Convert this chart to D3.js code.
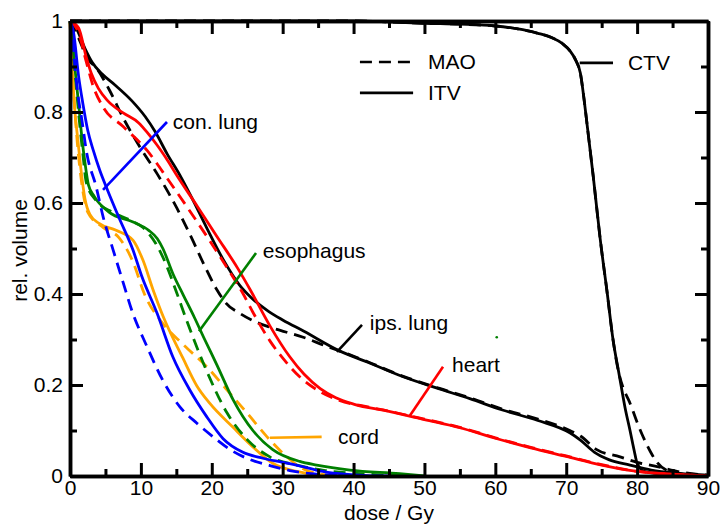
<!DOCTYPE html>
<html>
<head>
<meta charset="utf-8">
<script src="https://cdn.jsdelivr.net/npm/d3@7"></script>
<style>
  body { margin: 0; background: #fff; }
  text { font-family: "Liberation Sans", Arial, sans-serif; }
</style>
</head>
<body>
<script>
// dose (Gy), relative volume pairs
var ipsLungItv = [[0,1],[1,0.98],[2.1,0.94],[3.1,0.91],[4.5,0.884],[6.3,0.86],[8.7,0.825],[10.6,0.79],[12,0.757],[13.7,0.708],[15.5,0.661],[16.9,0.62],[19.3,0.545],[21.6,0.476],[24,0.418],[25.5,0.393],[28,0.362],[30,0.343],[33,0.318],[38,0.275],[42,0.25],[47,0.218],[52,0.192],[56.4,0.17],[61,0.145],[66,0.122],[70.5,0.095],[72,0.079],[74,0.052],[76,0.036],[79,0.024],[82,0.013],[86,0.006],[90,0.002]];
var ipsLungMao = [[0,1],[1,0.97],[2.5,0.917],[3.8,0.895],[5.5,0.85],[7.5,0.787],[9.9,0.722],[12.3,0.664],[13.8,0.625],[15.1,0.588],[17.4,0.515],[18.8,0.468],[20.7,0.41],[22,0.38],[24,0.357],[26,0.34],[28.2,0.327],[32.9,0.305],[36.2,0.285],[38,0.275],[42,0.251],[47,0.219],[52,0.193],[56.4,0.172],[61,0.147],[66,0.125],[70.5,0.1],[72,0.088],[74.3,0.058],[77.6,0.042],[80,0.03],[83,0.02],[86,0.009],[90,0.002]];
var heartItv = [[0,1],[1.2,0.985],[2.3,0.92],[3,0.885],[4,0.852],[5.3,0.825],[7.5,0.798],[9.7,0.776],[11,0.753],[12.3,0.727],[13.5,0.7],[15.1,0.66],[17.9,0.594],[20.7,0.527],[23.6,0.458],[25.4,0.41],[28.2,0.33],[31,0.262],[33,0.224],[35.3,0.192],[37.5,0.172],[40,0.158],[45,0.142],[50,0.124],[55,0.106],[60,0.083],[65,0.062],[70,0.043],[75,0.024],[80,0.01],[85,0.004],[90,0]];
var heartMao = [[0,1],[1.2,0.975],[2.3,0.91],[3.2,0.86],[4.7,0.81],[7.5,0.768],[10.9,0.715],[13.9,0.65],[16.7,0.587],[19.5,0.522],[22.6,0.447],[24.4,0.401],[25.8,0.36],[28.2,0.297],[30.6,0.248],[32.4,0.218],[35.3,0.185],[38,0.166],[42.3,0.151],[46,0.139],[50,0.125],[55,0.107],[60,0.084],[65,0.063],[70,0.044],[75,0.025],[80,0.01],[85,0.004],[90,0]];
var conLungItv = [[0,1],[0.5,0.975],[1.2,0.88],[1.8,0.82],[2.5,0.76],[3.3,0.715],[4.2,0.672],[5.2,0.632],[6.9,0.568],[8.9,0.496],[10.1,0.44],[12.3,0.357],[14.5,0.262],[16.9,0.189],[19.3,0.13],[21.6,0.082],[24.4,0.052],[27.2,0.039],[30,0.03],[32.4,0.022],[35,0.012],[38,0.005],[42,0.001],[45,0]];
var conLungMao = [[0,1],[0.3,0.97],[0.7,0.9],[1.1,0.84],[1.7,0.78],[2.3,0.715],[3.7,0.635],[4.7,0.568],[6.1,0.496],[7.5,0.425],[8.7,0.365],[10.9,0.283],[13.1,0.21],[15.5,0.152],[17.9,0.116],[20.2,0.086],[22.6,0.058],[25.4,0.036],[28.2,0.023],[31,0.012],[34,0.005],[38,0.001],[40,0]];
var esophagusItv = [[0,1],[0.4,0.95],[0.8,0.88],[1.2,0.82],[1.7,0.74],[2.1,0.69],[2.6,0.64],[3.4,0.615],[5.5,0.58],[8.9,0.558],[11.1,0.54],[12.3,0.522],[13.1,0.5],[14.5,0.445],[16,0.397],[17.5,0.35],[19,0.3],[20.7,0.245],[23,0.168],[25.8,0.1],[28.6,0.058],[32.4,0.032],[34.8,0.024],[39.5,0.013],[46.5,0.005],[50,0]];
var esophagusMao = [[0,1],[0.4,0.94],[0.8,0.87],[1.2,0.8],[1.8,0.71],[2.3,0.645],[3.7,0.605],[6,0.58],[8.5,0.562],[10.3,0.546],[12.1,0.511],[13.5,0.467],[15,0.405],[16.5,0.34],[19.3,0.23],[22.1,0.14],[25,0.08],[28.2,0.042],[32,0.024],[36,0.012],[42,0.004],[48,0]];
var cordItv = [[0,1],[0.3,0.9],[0.7,0.8],[1.1,0.74],[1.5,0.68],[2.1,0.61],[2.8,0.575],[4.1,0.555],[6.5,0.54],[8.9,0.518],[10.3,0.474],[11.7,0.41],[13.1,0.352],[15.9,0.26],[17.9,0.198],[19.7,0.16],[23,0.107],[25.8,0.064],[28.6,0.028],[32,0.01],[35,0.002],[37,0]];
var cordMao = [[0,1],[0.3,0.9],[0.7,0.8],[1.1,0.72],[1.6,0.65],[2.5,0.58],[4.7,0.546],[6.9,0.524],[8.9,0.47],[10.5,0.4],[13.1,0.335],[15.9,0.29],[19.3,0.24],[22.1,0.19],[25,0.138],[27.8,0.086],[30.6,0.042],[32.4,0.02],[35,0.005],[38,0]];
var ctvItv = [[0,1],[40,1],[45,0.998],[50,0.995],[55,0.993],[60,0.989],[63,0.983],[66,0.973],[68,0.963],[69.5,0.95],[70.5,0.935],[71.3,0.915],[72,0.885],[72.5,0.83],[73,0.765],[73.8,0.66],[74.8,0.52],[75.8,0.4],[76.6,0.3],[77.5,0.22],[78.3,0.15],[79,0.1],[79.6,0.055],[80,0.028],[81,0.01],[83,0.005],[86,0.002],[90,0]];
var ctvMao = [[0,1],[40,1],[45,0.998],[50,0.995],[55,0.993],[60,0.989],[63,0.983],[66,0.973],[68,0.963],[69.5,0.95],[70.5,0.935],[71.3,0.915],[72,0.885],[72.5,0.83],[73,0.765],[73.8,0.66],[74.8,0.52],[75.8,0.4],[76.6,0.3],[77.4,0.228],[78,0.195],[78.5,0.177],[79,0.16],[80,0.118],[80.8,0.088],[82,0.05],[82.8,0.03],[84.6,0.01],[87,0.003],[90,0]];
var strayPoint = [[60.2,0.305]];

var xTicks = [0,10,20,30,40,50,60,70,80,90];
var xMinor = [5,15,25,35,45,55,65,75,85];
var yTicks = [0,0.2,0.4,0.6,0.8,1];
var yLabels = ["0","0.2","0.4","0.6","0.8","1"];
var yMinor = [0.1,0.3,0.5,0.7,0.9];

var curves = [
  {data: ctvItv, color: "#000", dash: null},
  {data: ctvMao, color: "#000", dash: "12,7"},
  {data: ipsLungItv, color: "#000", dash: null},
  {data: ipsLungMao, color: "#000", dash: "12,7"},
  {data: heartItv, color: "#ff0000", dash: null},
  {data: heartMao, color: "#ff0000", dash: "12,7"},
  {data: cordItv, color: "#ffa500", dash: null},
  {data: cordMao, color: "#ffa500", dash: "12,7"},
  {data: esophagusItv, color: "#008000", dash: null},
  {data: esophagusMao, color: "#008000", dash: "12,7"},
  {data: conLungItv, color: "#0000ff", dash: null},
  {data: conLungMao, color: "#0000ff", dash: "12,7"}
];

// labels with leader lines, in data units
var notes = [
  {text: "con. lung", color: "#0000ff", from: [4.66,0.629], to: [13.68,0.778], at: [14.5,0.778]},
  {text: "esophagus", color: "#008000", from: [18.2,0.318], to: [26.24,0.49], at: [27.2,0.495]},
  {text: "ips. lung", color: "#000", from: [37.66,0.273], to: [41.19,0.332], at: [42.3,0.336]},
  {text: "heart", color: "#ff0000", from: [47.96,0.133], to: [52.62,0.24], at: [53.9,0.244]},
  {text: "cord", color: "#ffa500", from: [28.2,0.084], to: [35.5,0.086], at: [37.8,0.086]},
  {text: "CTV", color: "#000", from: [71.9,0.908], to: [76.6,0.908], at: [78.7,0.908]}
];
var legend = [
  {text: "MAO", dash: "12,7", from: [40.9,0.91], to: [48.4,0.91], at: [50.5,0.91]},
  {text: "ITV", dash: null, from: [40.9,0.842], to: [48.4,0.842], at: [50.5,0.842]}
];

var width = 722, height = 525;
var x = d3.scaleLinear().domain([0, 90]).range([70, 708]);
var y = d3.scaleLinear().domain([0, 1]).range([476, 21]);

var svg = d3.select("body").append("svg")
  .attr("width", width).attr("height", height);

var line = d3.line()
  .x(function(d){ return x(d[0]); })
  .y(function(d){ return y(d[1]); })
  .curve(d3.curveMonotoneX);

svg.selectAll(".curve").data(curves).enter().append("path")
  .attr("class", "curve")
  .attr("d", function(d){ return line(d.data); })
  .attr("fill", "none")
  .attr("stroke", function(d){ return d.color; })
  .attr("stroke-width", 2.8)
  .attr("stroke-dasharray", function(d){ return d.dash; });

svg.selectAll(".stray").data(strayPoint).enter().append("circle")
  .attr("cx", function(d){ return x(d[0]); })
  .attr("cy", function(d){ return y(d[1]); })
  .attr("r", 1.3).attr("fill", "#008000");

// axes: ticks point inward
function styleAxis(g) {
  g.select(".domain").attr("stroke", "#000").attr("stroke-width", 3.5);
  g.selectAll(".tick line").attr("stroke", "#000").attr("stroke-width", 3);
  g.selectAll(".tick text").attr("fill", "#000")
    .style("font-size", "21px").style("font-family", "'Liberation Sans', Arial, sans-serif");
}

svg.append("g").attr("transform", "translate(0," + y(0) + ")")
  .call(d3.axisBottom(x).tickValues(xTicks).tickSize(-13).tickSizeOuter(0).tickPadding(4).tickFormat(d3.format("d")))
  .call(styleAxis);
svg.append("g").attr("transform", "translate(0," + y(0) + ")")
  .call(d3.axisBottom(x).tickValues(xMinor).tickSize(-7).tickSizeOuter(0).tickFormat(""))
  .call(styleAxis);
svg.append("g").attr("transform", "translate(0," + y(1) + ")")
  .call(d3.axisTop(x).tickValues(xTicks).tickSize(-13).tickSizeOuter(0).tickFormat(""))
  .call(styleAxis);
svg.append("g").attr("transform", "translate(0," + y(1) + ")")
  .call(d3.axisTop(x).tickValues(xMinor).tickSize(-7).tickSizeOuter(0).tickFormat(""))
  .call(styleAxis);

svg.append("g").attr("transform", "translate(" + x(0) + ",0)")
  .call(d3.axisLeft(y).tickValues(yTicks).tickSize(-13).tickSizeOuter(0).tickPadding(7)
    .tickFormat(function(d, i){ return yLabels[i]; }))
  .call(styleAxis);
svg.append("g").attr("transform", "translate(" + x(0) + ",0)")
  .call(d3.axisLeft(y).tickValues(yMinor).tickSize(-7).tickSizeOuter(0).tickFormat(""))
  .call(styleAxis);
svg.append("g").attr("transform", "translate(" + x(90) + ",0)")
  .call(d3.axisRight(y).tickValues(yTicks).tickSize(-13).tickSizeOuter(0).tickFormat(""))
  .call(styleAxis);
svg.append("g").attr("transform", "translate(" + x(90) + ",0)")
  .call(d3.axisRight(y).tickValues(yMinor).tickSize(-7).tickSizeOuter(0).tickFormat(""))
  .call(styleAxis);

// axis titles
svg.append("text")
  .attr("x", (x(0) + x(90)) / 2).attr("y", 520)
  .attr("text-anchor", "middle")
  .style("font-size", "21px").attr("fill", "#000")
  .text("dose / Gy");
svg.append("text")
  .attr("transform", "translate(27," + (y(0.5) + 2) + ") rotate(-90)")
  .attr("text-anchor", "middle")
  .style("font-size", "21px").attr("fill", "#000")
  .text("rel. volume");

// annotations
svg.selectAll(".leader").data(notes).enter().append("line")
  .attr("x1", function(d){ return x(d.from[0]); })
  .attr("y1", function(d){ return y(d.from[1]); })
  .attr("x2", function(d){ return x(d.to[0]); })
  .attr("y2", function(d){ return y(d.to[1]); })
  .attr("stroke", function(d){ return d.color; })
  .attr("stroke-width", 2.6);
svg.selectAll(".note").data(notes).enter().append("text")
  .attr("x", function(d){ return x(d.at[0]); })
  .attr("y", function(d){ return y(d.at[1]); })
  .attr("dy", "0.35em")
  .style("font-size", "21px").attr("fill", "#000")
  .text(function(d){ return d.text; });

svg.selectAll(".legline").data(legend).enter().append("line")
  .attr("x1", function(d){ return x(d.from[0]); })
  .attr("y1", function(d){ return y(d.from[1]); })
  .attr("x2", function(d){ return x(d.to[0]); })
  .attr("y2", function(d){ return y(d.to[1]); })
  .attr("stroke", "#000").attr("stroke-width", 2.6)
  .attr("stroke-dasharray", function(d){ return d.dash; });
svg.selectAll(".legtext").data(legend).enter().append("text")
  .attr("x", function(d){ return x(d.at[0]); })
  .attr("y", function(d){ return y(d.at[1]); })
  .attr("dy", "0.35em")
  .style("font-size", "21px").attr("fill", "#000")
  .text(function(d){ return d.text; });
</script>
</body>
</html>
